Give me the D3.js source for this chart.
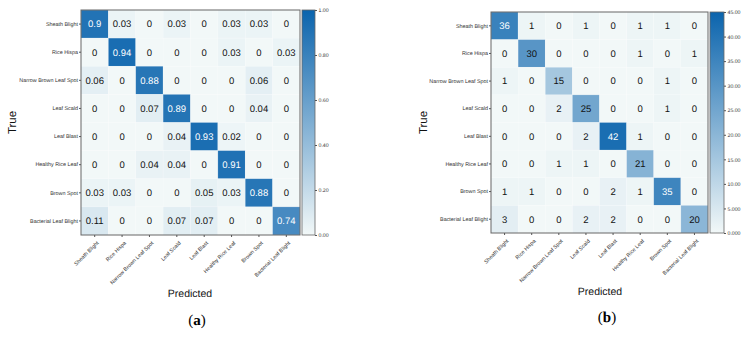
<!DOCTYPE html>
<html><head><meta charset="utf-8">
<script src="https://cdn.jsdelivr.net/npm/d3@7"></script>
<style>html,body{margin:0;padding:0;background:#fff;}svg{display:block;}text{text-rendering:geometricPrecision;}</style>
</head><body>
<svg id="c" width="748" height="337"></svg>
<script>
const classes = ["Sheath Blight","Rice Hispa","Narrow Brown Leaf Spot","Leaf Scald","Leaf Blast","Healthy Rice Leaf","Brown Spot","Bacterial Leaf Blight"];
const normValues = [
  [0.9,0.03,0,0.03,0,0.03,0.03,0],
  [0,0.94,0,0,0,0.03,0,0.03],
  [0.06,0,0.88,0,0,0,0.06,0],
  [0,0,0.07,0.89,0,0,0.04,0],
  [0,0,0,0.04,0.93,0.02,0,0],
  [0,0,0.04,0.04,0,0.91,0,0],
  [0.03,0.03,0,0,0.05,0.03,0.88,0],
  [0.11,0,0,0.07,0.07,0,0,0.74]
];
const countValues = [
  [36,1,0,1,0,1,1,0],
  [0,30,0,0,0,1,0,1],
  [1,0,15,0,0,0,1,0],
  [0,0,2,25,0,0,1,0],
  [0,0,0,2,42,1,0,0],
  [0,0,1,1,0,21,0,0],
  [1,1,0,0,2,1,35,0],
  [3,0,0,2,2,0,0,20]
];
const normTicks = [0,0.2,0.4,0.6,0.8,1.0];
const normTickLabels = ["0.00","0.20","0.40","0.60","0.80","1.00"];
const countTicks = [0,5,10,15,20,25,30,35,40,45];
const countTickLabels = ["0.000","5.000","10.00","15.00","20.00","25.00","30.00","35.00","40.00","45.00"];

const svg = d3.select("#c");
const lowC = "#f2f8f8", highC = "#0b64ad";

function panel(cfg){
  const g = svg.append("g");
  const x = d3.scaleBand().domain(d3.range(classes.length)).range([cfg.x0,cfg.x1]);
  const y = d3.scaleBand().domain(d3.range(classes.length)).range([cfg.y0,cfg.y1]);
  const col = d3.scaleLinear().domain(cfg.domain).range([lowC,highC]).interpolate(d3.interpolateRgb);
  const cells = [];
  cfg.values.forEach((row,i)=>row.forEach((v,j)=>cells.push({i,j,v})));
  g.selectAll("rect.cell").data(cells).join("rect").attr("class","cell")
    .attr("x",d=>x(d.j)).attr("y",d=>y(d.i))
    .attr("width",x.bandwidth()).attr("height",y.bandwidth())
    .attr("fill",d=>col(d.v)).attr("stroke","#ffffff").attr("stroke-opacity",0.3).attr("stroke-width",0.6);
  g.selectAll("text.val").data(cells).join("text").attr("class","val")
    .attr("x",d=>x(d.j)+x.bandwidth()/2).attr("y",d=>y(d.i)+y.bandwidth()/2)
    .attr("dy","0.36em").attr("text-anchor","middle")
    .attr("font-family","Liberation Sans, Arial, sans-serif").attr("font-size",9.5)
    .attr("fill",d=>(d.v-cfg.domain[0])/(cfg.domain[1]-cfg.domain[0])>0.7?"#ffffff":"#111111")
    .text(d=>d.v);
  g.append("rect").attr("x",cfg.x0).attr("y",cfg.y0).attr("width",cfg.x1-cfg.x0).attr("height",cfg.y1-cfg.y0)
    .attr("fill","none").attr("stroke","#666").attr("stroke-width",1);
  const yAx = g.append("g").attr("transform",`translate(${cfg.x0},0)`)
    .call(d3.axisLeft(y).tickSize(2).tickPadding(1).tickFormat(i=>classes[i]));
  yAx.select(".domain").remove();
  yAx.selectAll("line").attr("stroke","#555");
  yAx.selectAll("text").attr("font-family","Liberation Sans, Arial, sans-serif").attr("font-size",5.4).attr("fill","#333");
  const xAx = g.append("g").attr("transform",`translate(0,${cfg.y1})`)
    .call(d3.axisBottom(x).tickSize(2).tickFormat(i=>classes[i]));
  xAx.select(".domain").remove();
  xAx.selectAll("line").attr("stroke","#555");
  xAx.selectAll("text").attr("font-family","Liberation Sans, Arial, sans-serif").attr("font-size",5.4).attr("fill","#333")
    .attr("text-anchor","end").attr("dy","0.35em").attr("y",0)
    .attr("transform","translate(3,7) rotate(-45)");
  const gid = "grad"+cfg.id;
  const grad = svg.append("defs").append("linearGradient").attr("id",gid).attr("x1",0).attr("y1",1).attr("x2",0).attr("y2",0);
  grad.append("stop").attr("offset",0).attr("stop-color",lowC);
  grad.append("stop").attr("offset",1).attr("stop-color",highC);
  g.append("rect").attr("x",cfg.cbx).attr("y",cfg.y0).attr("width",cfg.cbw).attr("height",cfg.y1-cfg.y0)
    .attr("fill",`url(#${gid})`).attr("stroke","#666").attr("stroke-width",0.8);
  const cy = d3.scaleLinear().domain(cfg.domain).range([cfg.y1,cfg.y0]);
  const cAx = g.append("g").attr("transform",`translate(${cfg.cbx+cfg.cbw},0)`)
    .call(d3.axisRight(cy).tickValues(cfg.ticks).tickSize(2).tickPadding(1.5).tickFormat((d,i)=>cfg.tickLabels[i]));
  cAx.select(".domain").remove();
  cAx.selectAll("line").attr("stroke","#555");
  cAx.selectAll("text").attr("font-family","Liberation Sans, Arial, sans-serif").attr("font-size",5.2).attr("fill","#333");
  svg.append("text").attr("transform",`translate(${cfg.trueX},${(cfg.y0+cfg.y1)/2}) rotate(-90)`)
    .attr("text-anchor","middle").attr("dy","0.35em")
    .attr("font-family","Liberation Sans, Arial, sans-serif").attr("font-size",11.5).attr("fill","#111").text("True");
  svg.append("text").attr("x",cfg.predX).attr("y",cfg.predY).attr("text-anchor","middle")
    .attr("font-family","Liberation Sans, Arial, sans-serif").attr("font-size",10.5).attr("fill","#111").text("Predicted");
  const cap = svg.append("text").attr("x",cfg.capX).attr("y",cfg.capY).attr("text-anchor","middle")
    .attr("font-family","Liberation Serif, DejaVu Serif, serif").attr("font-size",15).attr("fill","#000");
  cap.append("tspan").text("(");
  cap.append("tspan").attr("font-weight","bold").text(cfg.caption);
  cap.append("tspan").text(")");
}

panel({id:"a",values:normValues,domain:[0,1],ticks:normTicks,tickLabels:normTickLabels,
  x0:81,x1:300,y0:10,y1:235,cbx:302,cbw:13,trueX:12,predX:190,predY:297,capX:197,capY:325,caption:"a"});
panel({id:"b",values:countValues,domain:[0,45],ticks:countTicks,tickLabels:countTickLabels,
  x0:491,x1:708,y0:12,y1:233,cbx:710,cbw:14,trueX:423,predX:600,predY:295,capX:607,capY:322,caption:"b"});
</script>
</body></html>
